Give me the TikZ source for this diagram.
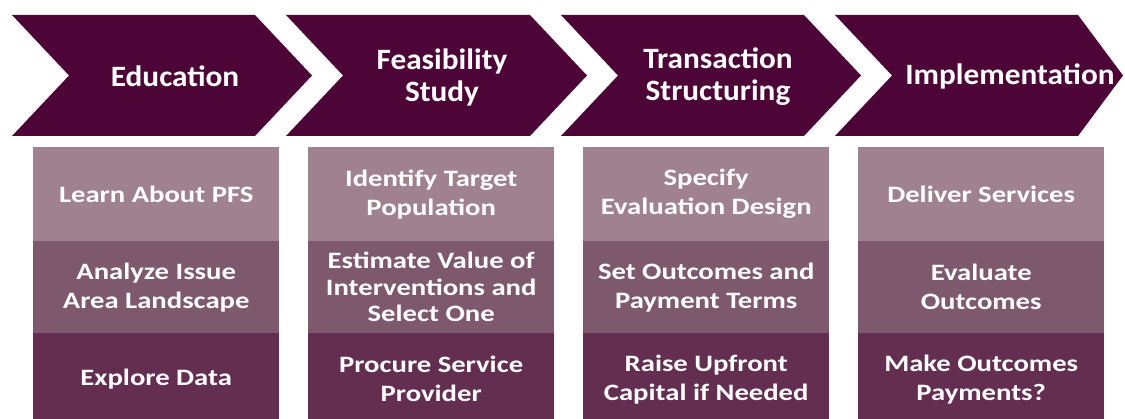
\documentclass[tikz,border=0pt]{standalone}
\usepackage{fontspec}
\setmainfont{Carlito}
\newfontfamily\headfont[FakeStretch=1.06]{Carlito}
\newfontfamily\cellfont[FakeStretch=1.22]{Carlito}
\definecolor{stagecol}{HTML}{4D0537}
\definecolor{rowA}{HTML}{A0818F}
\definecolor{rowB}{HTML}{7E586D}
\definecolor{rowC}{HTML}{642E51}
\begin{document}
\begin{tikzpicture}[x=1pt,y=-1pt,
  stagetext/.style={text=white, font=\headfont\bfseries\fontsize{29.5}{32}\selectfont, align=center, inner sep=0pt},
  cell/.style={anchor=north west, minimum width=246pt, inner sep=0pt, text=white,
    font=\cellfont\bfseries\fontsize{23.5}{29}\selectfont, align=center},
  cellA/.style={cell, fill=rowA, minimum height=94pt},
  cellB/.style={cell, fill=rowB, minimum height=92pt},
  cellC/.style={cell, fill=rowC, minimum height=92pt}]
\useasboundingbox (0,0) rectangle (1125,419);

% stage chevrons
\fill[stagecol] (12,15) -- (255,15) -- (312,75.5) -- (255,136) -- (12,136) -- (69,75.5) -- cycle;
\fill[stagecol] (286,15) -- (530,15) -- (587,75.5) -- (530,136) -- (286,136) -- (343,75.5) -- cycle;
\fill[stagecol] (561,15) -- (804,15) -- (861,75.5) -- (804,136) -- (561,136) -- (618,75.5) -- cycle;
\fill[stagecol] (835,15) -- (1078,15) -- (1123,75.5) -- (1078,136) -- (835,136) -- (892,75.5) -- cycle;

% stage titles
\node[stagetext] (s1) at (175,76) {Education};
\node[stagetext] (s2) at (442,77) {Feasibility\\Study};
\node[stagetext] (s3) at (718,77) {Transaction\\Structuring};
\node[stagetext] (s4) at (1010,76) {Implementation};

% column 1
\node[cellA] (a1) at (33,147) {Learn About PFS};
\node[cellB] (b1) at (33,241) {Analyze Issue\\Area Landscape};
\node[cellC] (c1) at (33,333) {Explore Data};
% column 2
\node[cellA] (a2) at (308,147) {Identify Target\\Population};
\node[cellB, font=\cellfont\bfseries\fontsize{23.5}{26.5}\selectfont] (b2) at (308,241) {Estimate Value of\\Interventions and\\Select One};
\node[cellC] (c2) at (308,333) {Procure Service\\Provider};
% column 3
\node[cellA] (a3) at (583,147) {Specify\\Evaluation Design};
\node[cellB] (b3) at (583,241) {Set Outcomes and\\Payment Terms};
\node[cellC] (c3) at (583,333) {Raise Upfront\\Capital if Needed};
% column 4
\node[cellA] (a4) at (858,147) {Deliver Services};
\node[cellB] (b4) at (858,241) {Evaluate\\Outcomes};
\node[cellC] (c4) at (858,333) {Make Outcomes\\Payments?};
\end{tikzpicture}
\end{document}
